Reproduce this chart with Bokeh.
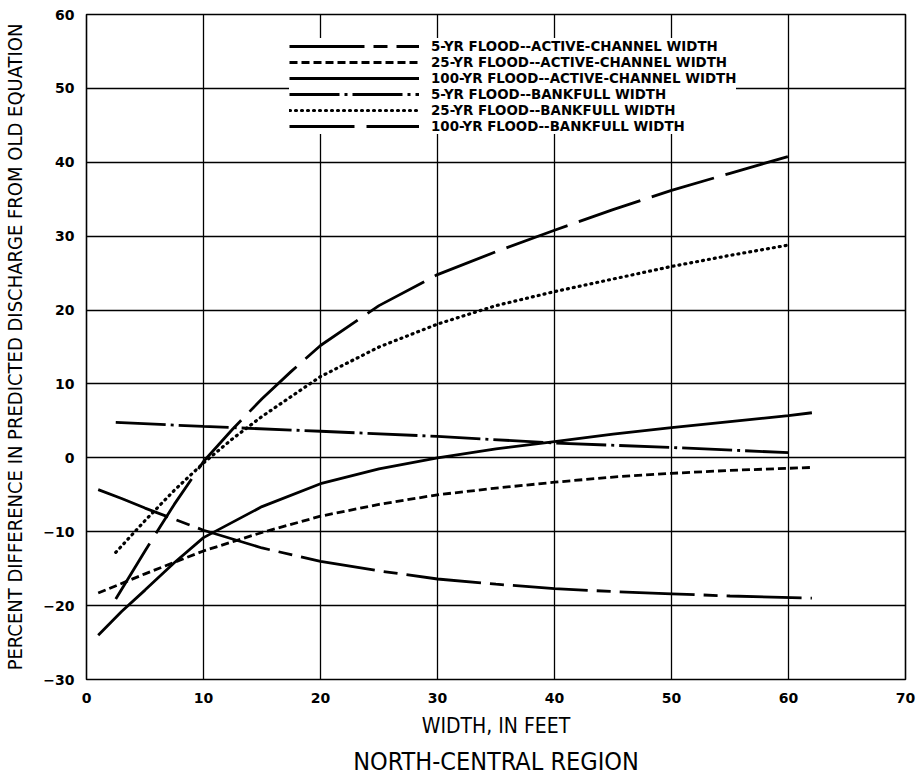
from bokeh.plotting import figure
from bokeh.models import Legend, LegendItem, Title, FixedTicker, Range1d
from bokeh.embed import file_html
from bokeh.resources import INLINE

# ---- data ----
x_5yr_active = [1, 3, 5, 7.5, 10, 15, 20, 25, 30, 35, 40, 45, 50, 55, 62]
y_5yr_active = [-4.3, -5.5, -6.8, -8.3, -9.8, -12.2, -14.0, -15.3, -16.4, -17.1, -17.7, -18.1, -18.4, -18.7, -19.0]

x_25yr_active = [1, 5, 10, 15, 20, 25, 30, 35, 40, 45, 50, 55, 62]
y_25yr_active = [-18.3, -15.7, -12.6, -10.1, -7.9, -6.3, -5.0, -4.1, -3.3, -2.6, -2.1, -1.7, -1.3]

x_100yr_active = [1, 3, 5, 7.5, 10, 15, 20, 25, 30, 35, 40, 45, 50, 55, 60, 62]
y_100yr_active = [-24.0, -20.8, -17.9, -14.2, -10.8, -6.6, -3.5, -1.5, 0.0, 1.2, 2.2, 3.2, 4.1, 4.9, 5.7, 6.1]

x_5yr_bank = [2.5, 10, 20, 30, 40, 50, 60]
y_5yr_bank = [4.8, 4.25, 3.6, 2.9, 2.0, 1.4, 0.7]

x_25yr_bank = [2.5, 5, 7.5, 10, 12.5, 15, 20, 25, 30, 35, 40, 45, 50, 55, 60]
y_25yr_bank = [-12.8, -8.5, -4.4, -0.7, 2.6, 5.6, 11.0, 15.0, 18.1, 20.6, 22.5, 24.2, 25.9, 27.4, 28.8]

x_100yr_bank = [2.5, 5, 7.5, 10, 12.5, 15, 17.5, 20, 25, 30, 35, 40, 45, 50, 55, 60]
y_100yr_bank = [-19.1, -12.6, -6.3, -0.5, 3.9, 8.0, 11.7, 15.2, 20.6, 24.8, 27.9, 30.8, 33.6, 36.2, 38.5, 40.8]

labels = [
    "5-YR FLOOD--ACTIVE-CHANNEL WIDTH",
    "25-YR FLOOD--ACTIVE-CHANNEL WIDTH",
    "100-YR FLOOD--ACTIVE-CHANNEL WIDTH",
    "5-YR FLOOD--BANKFULL WIDTH",
    "25-YR FLOOD--BANKFULL WIDTH",
    "100-YR FLOOD--BANKFULL WIDTH",
]
x_ticks = [0, 10, 20, 30, 40, 50, 60, 70]
y_ticks = [-30, -20, -10, 0, 10, 20, 30, 40, 50, 60]

TICK_FONT = "DejaVu Sans"
LABEL_FONT = "DejaVu Sans Condensed"

p = figure(width=918, height=782, output_backend="svg", toolbar_location=None,
           x_range=Range1d(0, 70), y_range=Range1d(-30, 60),
           min_border_left=86, min_border_right=13, min_border_top=14, min_border_bottom=103)

p.background_fill_color = "white"
p.border_fill_color = "white"
p.outline_line_color = "black"
p.outline_line_width = 1.6

for ax in (p.xaxis[0], p.yaxis[0]):
    ax.axis_line_color = None
    ax.major_tick_line_color = None
    ax.minor_tick_line_color = None
    ax.major_tick_out = 0
    ax.major_tick_in = 0
    ax.minor_tick_out = 0
    ax.minor_tick_in = 0
    ax.major_label_text_font = TICK_FONT
    ax.major_label_text_font_style = "bold"
    ax.major_label_text_font_size = "14px"
    ax.major_label_text_color = "black"
    ax.axis_label_text_font = LABEL_FONT
    ax.axis_label_text_font_style = "normal"
    ax.axis_label_text_color = "black"

p.xaxis.axis_label_text_font_size = "21px"
p.yaxis.axis_label_text_font_size = "20px"

p.xaxis.ticker = FixedTicker(ticks=x_ticks)
p.yaxis.ticker = FixedTicker(ticks=y_ticks)
p.xaxis.major_label_standoff = 13
p.yaxis.major_label_standoff = 12
p.xaxis.axis_label = "WIDTH, IN FEET"
p.yaxis.axis_label = "PERCENT DIFFERENCE IN PREDICTED DISCHARGE FROM OLD EQUATION"
p.xaxis.axis_label_standoff = 8
p.yaxis.axis_label_standoff = 13

p.xgrid.ticker = FixedTicker(ticks=x_ticks)
p.ygrid.ticker = FixedTicker(ticks=y_ticks)
for g in (p.xgrid[0], p.ygrid[0]):
    g.grid_line_color = "black"
    g.grid_line_width = 1.3
    g.grid_line_alpha = 1.0

LW = 2.8
r1 = p.line(x_5yr_active, y_5yr_active, line_color="black", line_width=LW, line_dash="75 9 14 9")
r2 = p.line(x_25yr_active, y_25yr_active, line_color="black", line_width=LW, line_dash="8 4")
r3 = p.line(x_100yr_active, y_100yr_active, line_color="black", line_width=LW)
r4 = p.line(x_5yr_bank, y_5yr_bank, line_color="black", line_width=LW, line_dash="50 5 3 5")
r5 = p.line(x_25yr_bank, y_25yr_bank, line_color="black", line_width=3.2, line_dash="1 5", line_cap="round")
r6 = p.line(x_100yr_bank, y_100yr_bank, line_color="black", line_width=LW, line_dash="65 12")

legend = Legend(
    items=[LegendItem(label=lab, renderers=[r]) for lab, r in zip(labels, [r1, r2, r3, r4, r5, r6])],
    location=(203, 545),
    glyph_width=130, glyph_height=16, label_height=16, spacing=0,
    padding=6, margin=0, label_standoff=12,
    border_line_color=None, background_fill_color="white", background_fill_alpha=1.0,
    label_text_font=TICK_FONT, label_text_font_size="13.4px", label_text_font_style="bold",
    label_text_color="black",
)
p.add_layout(legend)

t = Title(text="NORTH-CENTRAL REGION", align="center", text_font=LABEL_FONT,
          text_font_size="25px", text_font_style="normal", text_color="black", standoff=9)
p.add_layout(t, "below")

open("out.html", "w").write(file_html(p, INLINE))
